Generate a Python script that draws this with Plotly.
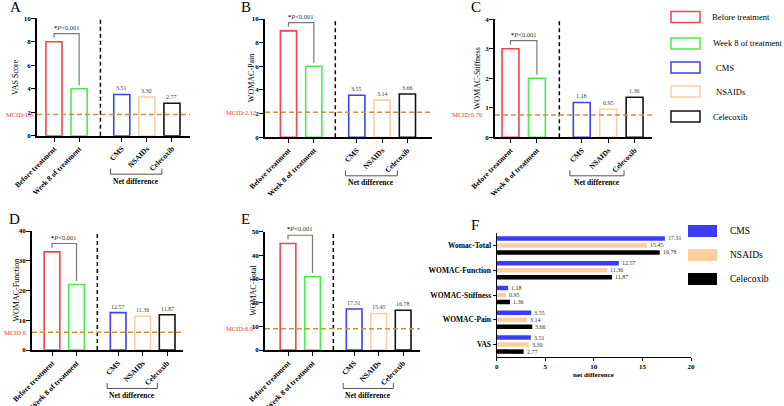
import plotly.graph_objects as go

W, H = 784, 406
FONT = "Liberation Serif, Times New Roman, serif"

# ---------------- data ----------------
categories = ["Before treatment", "Week 8 of treatment", "CMS", "NSAIDs", "Celecoxib"]
vas = [8, 4, 3.51, 3.30, 2.77]
womac_pain = [9, 6, 3.55, 3.14, 3.66]
womac_stiffness = [3, 2, 1.18, 0.95, 1.36]
womac_function = [33, 22, 12.57, 11.36, 11.87]
womac_total = [45, 31, 17.31, 15.45, 16.78]
y_titles = ["VAS Score", "WOMAC-Pain", "WOMAC-Stiffness", "WOMAC-Function", "WOMAC-Total"]
mcid_values = [1.8, 2.12, 0.76, 6, 8.97]
mcid_labels = ["MCID:1.8", "MCID:2.12", "MCID:0.76", "MCID:6", "MCID:8.97"]
y_max = [10, 10, 4, 40, 50]
y_step = [2, 2, 1, 10, 10]
p_label = "<0.001"
group_label = "Net difference"

f_categories = ["VAS", "WOMAC-Pain", "WOMAC-Stiffness", "WOMAC-Function", "Womac-Total"]
f_cms = [3.51, 3.55, 1.18, 12.57, 17.31]
f_nsaids = [3.30, 3.14, 0.95, 11.36, 15.45]
f_celecoxib = [2.77, 3.66, 1.36, 11.87, 16.78]
f_series = ["CMS", "NSAIDs", "Celecoxib"]
f_axis_title = "net difference"

# ---------------- styles / layout ----------------
x_pos = [0, 1, 2.7, 3.7, 4.7]
divider_x = 1.85
bar_colors = ["#f0454d", "#48ee48", "#4040ee", "#f8d0a8", "#141414"]
f_colors = ["#3c3cf4", "#fbcfa0", "#000000"]
MCID_LINE = "#c9963c"
MCID_TEXT = "#ee3a3a"

panels = [
    dict(l=37, r=190, t=18.3, b=135.7, c0=54, u=25.1, tx=15, mx=35, letter="A", lx=15, ly=7),
    dict(l=265, r=432, t=19, b=137.3, c0=288.5, u=25.3, tx=251, mx=258, letter="B", lx=245.5, ly=7),
    dict(l=495, r=652, t=19.3, b=137.3, c0=510.5, u=26.4, tx=477, mx=485, letter="C", lx=475.7, ly=7),
    dict(l=32, r=183, t=231, b=350, c0=52, u=24.5, tx=16, mx=29, letter="D", lx=14.5, ly=219),
    dict(l=265, r=420, t=231.7, b=350, c0=288, u=24.5, tx=254, mx=259, letter="E", lx=245.7, ly=219),
]
F = dict(l=496.7, r=691, t=233, b=357)


def fx(px):
    return px / W


def fy(py):
    return 1 - py / H


fig = go.Figure()
shapes, annotations, axes = [], [], {}


def ann(**kw):
    kw.setdefault("showarrow", False)
    kw.setdefault("xanchor", "center")
    kw.setdefault("yanchor", "middle")
    annotations.append(kw)


panel_values = [vas, womac_pain, womac_stiffness, womac_function, womac_total]
for i, (p, vals) in enumerate(zip(panels, panel_values)):
    n = i + 1
    suf = "" if n == 1 else str(n)
    xa, ya = "x" + suf, "y" + suf
    xr = [(p["l"] - p["c0"]) / p["u"], (p["r"] - p["c0"]) / p["u"]]
    ymax = y_max[i]
    fig.add_trace(go.Bar(
        x=x_pos, y=vals, width=0.64, xaxis=xa, yaxis=ya, showlegend=False,
        marker=dict(color="rgba(255,255,255,0)", line=dict(color=bar_colors, width=1.6)),
        hoverinfo="skip"))
    axes["xaxis" + suf] = dict(
        domain=[fx(p["l"]), fx(p["r"])], range=xr, anchor=ya, automargin=False,
        tickmode="array", tickvals=x_pos, ticktext=categories, tickangle=-45,
        showline=True, linecolor="black", linewidth=1.6, ticks="outside", ticklen=4,
        tickwidth=1.4, tickcolor="black", showgrid=False, zeroline=False,
        tickfont=dict(family=FONT, size=7.5, color="black", weight="bold"))
    axes["yaxis" + suf] = dict(
        domain=[fy(p["b"]), fy(p["t"])], range=[0, ymax], anchor=xa, automargin=False,
        tickmode="linear", tick0=0, dtick=y_step[i], ticklabelstandoff=-1,
        showline=True, linecolor="black", linewidth=1.6, ticks="outside", ticklen=4,
        tickwidth=1.4, tickcolor="black", showgrid=False, zeroline=False,
        tickfont=dict(family=FONT, size=7, color="black", weight="bold"))
    # divider
    shapes.append(dict(type="line", xref=xa, yref=ya + " domain", x0=divider_x, x1=divider_x,
                       y0=0, y1=1, line=dict(color="black", width=1.5, dash="4px,3px")))
    # MCID line + label
    shapes.append(dict(type="line", xref=xa + " domain", yref=ya, x0=0, x1=1,
                       y0=mcid_values[i], y1=mcid_values[i],
                       line=dict(color=MCID_LINE, width=1.5, dash="5px,3px")))
    ann(xref="paper", yref=ya, x=fx(p["mx"]), y=mcid_values[i], xanchor="right",
        text=mcid_labels[i], font=dict(family=FONT, size=6.5, color=MCID_TEXT))
    # significance bracket
    top = max(vals[0], vals[1]) + 0.07 * ymax
    ly = vals[0] + 0.035 * ymax
    ry = vals[1] + 0.03 * ymax
    shapes.append(dict(type="path", xref=xa, yref=ya,
                       path=f"M {x_pos[0]},{ly} L {x_pos[0]},{top} L {x_pos[1]},{top} L {x_pos[1]},{ry}",
                       line=dict(color="#7a7a7a", width=1.2)))
    ann(xref=xa, yref=ya, x=(x_pos[0] + x_pos[1]) / 2, y=top, yanchor="bottom", yshift=1,
        text="<b>*</b><i>P</i>" + p_label.replace("<", "&lt;"),
        font=dict(family=FONT, size=6.5, color="#333"))
    # value labels for net differences
    for k in range(2, 5):
        ann(xref=xa, yref=ya, x=x_pos[k], y=vals[k], yanchor="bottom", yshift=1,
            text=f"{vals[k]:.2f}", font=dict(family=FONT, size=6, color="#444"))
    # net difference bracket
    bx0 = x_pos[2] - 0.45
    bx1 = x_pos[4] - 0.4
    yt, yb = fy(p["b"] + 33), fy(p["b"] + 38.5)
    shapes.append(dict(type="path", xref=xa, yref="paper",
                       path=f"M {bx0},{yt} L {bx0},{yb} L {bx1},{yb} L {bx1},{yt}",
                       line=dict(color="#555", width=1)))
    ann(xref=xa, yref="paper", x=(bx0 + bx1) / 2, y=fy(p["b"] + 45.5),
        text="<b>" + group_label + "</b>", font=dict(family=FONT, size=7.5, color="black"))
    # y title
    ann(xref="paper", yref="paper", x=fx(p["tx"]), y=fy((p["t"] + p["b"]) / 2),
        textangle=-90, text=y_titles[i], font=dict(family=FONT, size=8, color="black"))
    # panel letter
    ann(xref="paper", yref="paper", x=fx(p["lx"]), y=fy(p["ly"]), text=p["letter"],
        font=dict(family=FONT, size=15, color="black"))

# ---------------- panel F ----------------
y_idx = list(range(len(f_categories)))
bar_h = 0.18
centers = [0.282, 0.0, -0.282]
for series, vals, col, c in zip(f_series, [f_cms, f_nsaids, f_celecoxib], f_colors, centers):
    fig.add_trace(go.Bar(
        y=y_idx, x=vals, orientation="h", width=bar_h, offset=c - bar_h / 2,
        xaxis="x6", yaxis="y6", showlegend=False, hoverinfo="skip",
        marker=dict(color=col, line=dict(width=0))))
    for yi, v in zip(y_idx, vals):
        ann(xref="x6", yref="y6", x=v, y=yi + c, xanchor="left", xshift=1,
            text=f"{v:.2f}", font=dict(family=FONT, size=6, color="#333"))

axes["xaxis6"] = dict(domain=[fx(F["l"]), fx(F["r"])], range=[0, 20], anchor="y6",
                      automargin=False, ticklabelstandoff=-1,
                      tickmode="linear", tick0=0, dtick=5, showline=True, linecolor="black",
                      linewidth=1.3, ticks="outside", ticklen=3, tickwidth=1.2, tickcolor="black",
                      showgrid=False, zeroline=False,
                      tickfont=dict(family=FONT, size=7, color="black", weight="bold"))
axes["yaxis6"] = dict(domain=[fy(F["b"]), fy(F["t"])], range=[-0.5, 4.5], anchor="x6",
                      automargin=False,
                      tickmode="array", tickvals=y_idx, ticktext=f_categories,
                      showline=True, linecolor="black", linewidth=1.3, ticks="outside",
                      ticklen=3, tickwidth=1.2, tickcolor="black", showgrid=False, zeroline=False,
                      tickfont=dict(family=FONT, size=7.5, color="black", weight="bold"))
ann(xref="x6", yref="paper", x=10, y=fy(375), text="<b>" + f_axis_title + "</b>",
    font=dict(family=FONT, size=7, color="black"))
ann(xref="paper", yref="paper", x=fx(475), y=fy(225), text="F",
    font=dict(family=FONT, size=15, color="black"))

# ---------------- legends (drawn) ----------------
legend_top = [("Before treatment", 0, 710), ("Week 8 of treatment", 1, 711), ("CMS", 2, 714),
              ("NSAIDs", 3, 714), ("Celecoxib", 4, 711)]
legend_top_y = [17, 43.5, 67.5, 91.5, 116.5]
for (name, ci, tx), cy in zip(legend_top, legend_top_y):
    shapes.append(dict(type="rect", xref="paper", yref="paper", x0=fx(671), x1=fx(700),
                       y0=fy(cy + 5.5), y1=fy(cy - 5.5),
                       line=dict(color=bar_colors[ci], width=1.5), fillcolor="rgba(0,0,0,0)"))
    ann(xref="paper", yref="paper", x=fx(tx), y=fy(cy), xanchor="left", text=name,
        font=dict(family=FONT, size=8.5, color="black"))

legend_f_y = [231, 255, 279]
for name, col, cy in zip(f_series, f_colors, legend_f_y):
    shapes.append(dict(type="rect", xref="paper", yref="paper", x0=fx(688), x1=fx(717),
                       y0=fy(cy + 6), y1=fy(cy - 6), line=dict(width=0), fillcolor=col))
    ann(xref="paper", yref="paper", x=fx(728), y=fy(cy), xanchor="left", text=name,
        font=dict(family=FONT, size=9.5, color="black"))

fig.update_layout(
    width=W, height=H, autosize=False,
    margin=dict(l=0, r=0, t=0, b=0, pad=0, autoexpand=False),
    paper_bgcolor="white", plot_bgcolor="white",
    barmode="overlay", showlegend=False,
    font=dict(family=FONT, color="black"),
    shapes=shapes, annotations=annotations,
    **axes,
)

fig.write_html(
    "out.html",
    config={"displayModeBar": False},
    post_script="document.body.style.margin='0';document.body.style.overflow='hidden';",
)
